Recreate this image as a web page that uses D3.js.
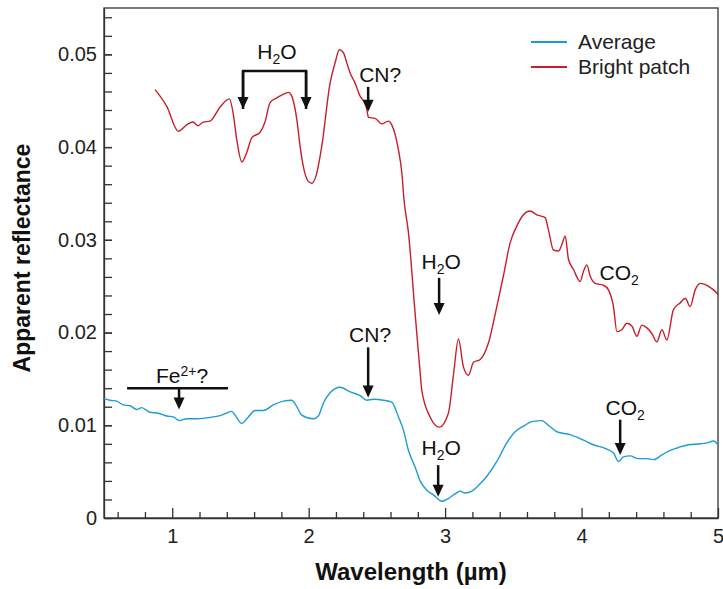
<!DOCTYPE html>
<html lang="en">
<head>
<meta charset="utf-8">
<title>Apparent reflectance</title>
<script src="https://cdn.jsdelivr.net/npm/d3@7"></script>
<style>
  body { margin: 0; background: #fff; font-family: "Liberation Sans", Arial, sans-serif; }
  .axis text { font-size: 20px; fill: #222; font-family: "Liberation Sans", Arial, sans-serif; }
  .axis path, .axis line { stroke: #333; stroke-width: 1.3; }
</style>
</head>
<body>
<script>
// wavelength (µm) and apparent reflectance
var avgWave = [0.5,0.544,0.593,0.641,0.691,0.74,0.776,0.837,0.898,0.96,1.008,1.052,1.106,1.18,1.253,1.301,1.363,1.436,1.46,1.51,1.558,1.607,1.668,1.741,1.815,1.876,1.913,1.949,2.034,2.071,2.108,2.157,2.23,2.304,2.377,2.426,2.474,2.548,2.609,2.658,2.694,2.731,2.78,2.817,2.866,2.914,2.976,3.024,3.073,3.11,3.147,3.196,3.244,3.306,3.379,3.452,3.513,3.574,3.636,3.709,3.757,3.819,3.916,4.014,4.087,4.173,4.234,4.271,4.307,4.356,4.417,4.479,4.527,4.589,4.65,4.71,4.784,4.87,4.919,4.967,5.0];
var avgRefl = [0.0129,0.0127,0.0126,0.0122,0.0121,0.0117,0.0119,0.0114,0.0113,0.0110,0.0109,0.0105,0.0107,0.0107,0.0108,0.0109,0.0111,0.0115,0.0111,0.0102,0.0109,0.0116,0.0116,0.0122,0.0126,0.0127,0.0120,0.0111,0.0107,0.0110,0.0124,0.0135,0.0141,0.0136,0.0132,0.0127,0.0128,0.0127,0.0125,0.0109,0.0095,0.0073,0.0055,0.0040,0.0030,0.0025,0.0018,0.0021,0.0026,0.0029,0.0027,0.0029,0.0035,0.0045,0.0061,0.0081,0.0093,0.0099,0.0104,0.0105,0.0100,0.0093,0.0090,0.0084,0.0079,0.0075,0.0070,0.0061,0.0066,0.0067,0.0064,0.0064,0.0063,0.0068,0.0073,0.0076,0.0079,0.0080,0.0081,0.0083,0.0079];

var brightWave = [0.874,0.96,1.045,1.106,1.152,1.189,1.226,1.277,1.35,1.419,1.446,1.473,1.51,1.546,1.583,1.644,1.68,1.717,1.766,1.803,1.851,1.876,1.913,1.937,1.961,1.998,2.023,2.054,2.096,2.157,2.194,2.225,2.254,2.279,2.304,2.34,2.377,2.401,2.426,2.438,2.487,2.536,2.584,2.609,2.658,2.683,2.699,2.731,2.78,2.817,2.829,2.89,2.958,3.024,3.061,3.098,3.134,3.171,3.208,3.257,3.318,3.379,3.427,3.477,3.526,3.574,3.623,3.672,3.733,3.757,3.794,3.831,3.856,3.88,3.904,3.941,3.99,4.014,4.039,4.063,4.1,4.161,4.197,4.234,4.259,4.295,4.332,4.369,4.405,4.442,4.479,4.515,4.552,4.589,4.625,4.674,4.723,4.76,4.796,4.833,4.87,4.919,4.967,5.0];
var brightRefl = [0.0462,0.0444,0.0417,0.0424,0.0427,0.0423,0.0427,0.0428,0.0443,0.0452,0.0437,0.0408,0.0384,0.0394,0.0410,0.0416,0.0427,0.0448,0.0453,0.0456,0.0459,0.0455,0.0430,0.0401,0.0379,0.0363,0.0361,0.0369,0.0401,0.0469,0.0491,0.0505,0.0502,0.0491,0.0480,0.0469,0.0455,0.0450,0.0441,0.0432,0.0431,0.0425,0.0428,0.0424,0.0397,0.0372,0.0343,0.0308,0.0221,0.0157,0.0138,0.0109,0.0098,0.0113,0.0154,0.0193,0.0163,0.0154,0.0168,0.0171,0.0189,0.0228,0.0261,0.0297,0.0315,0.0327,0.0331,0.0327,0.0324,0.0311,0.0289,0.0288,0.0295,0.0304,0.0279,0.0268,0.0255,0.0266,0.0273,0.0261,0.0253,0.0251,0.0246,0.0228,0.0201,0.0203,0.0210,0.0207,0.0196,0.0208,0.0205,0.0199,0.0190,0.0203,0.0192,0.0225,0.0232,0.0237,0.0228,0.0246,0.0253,0.0251,0.0246,0.0241];

var xTicks = [1, 2, 3, 4, 5];
var yTicks = [0, 0.01, 0.02, 0.03, 0.04, 0.05];
var yTickLabels = ["0", "0.01", "0.02", "0.03", "0.04", "0.05"];
var seriesNames = ["Average", "Bright patch"];
var seriesColors = ["#1b9bd7", "#c81e2a"];

// annotation labels: [text, subscript, rest, wavelength, reflectance]
var labels = [
  ["H", "2", "O", 1.768, 0.0503],
  ["CN?", "", "", 2.524, 0.0478],
  ["H", "2", "O", 2.971, 0.0276],
  ["CO", "2", "", 4.276, 0.0265],
  ["CN?", "", "", 2.45, 0.0198],
  ["H", "2", "O", 2.971, 0.0076],
  ["CO", "2", "", 4.32, 0.0119]
];
// arrows: wavelength, from reflectance, to reflectance
var arrows = [
  [1.519, 0.0482, 0.0441],
  [1.981, 0.0482, 0.0441],
  [2.436, 0.0465, 0.0438],
  [2.956, 0.0259, 0.0219],
  [2.436, 0.0184, 0.0130],
  [1.05, 0.0140, 0.0117],
  [2.949, 0.0057, 0.0023],
  [4.283, 0.0106, 0.0068]
];

var w = 723, h = 589;
var margin = {top: 8, right: 5, bottom: 71, left: 104};

var svg = d3.select("body").append("svg")
  .attr("width", w)
  .attr("height", h);

var x = d3.scaleLinear().domain([0.5, 5]).range([margin.left, w - margin.right]);
var y = d3.scaleLinear().domain([0, 0.055]).range([h - margin.bottom, margin.top]);

// frame
svg.append("rect")
  .attr("x", margin.left).attr("y", margin.top)
  .attr("width", w - margin.right - margin.left)
  .attr("height", h - margin.bottom - margin.top)
  .attr("fill", "none").attr("stroke", "#333").attr("stroke-width", 1.3);

// minor ticks
var xMinor = d3.range(0.6, 5, 0.2).filter(function(d) { return Math.abs(d - Math.round(d)) > 0.01; });
svg.append("g").attr("class", "axis")
  .attr("transform", "translate(0," + (h - margin.bottom) + ")")
  .call(d3.axisBottom(x).tickValues(xMinor).tickSize(-6).tickFormat(""))
  .select(".domain").remove();
var yMinor = d3.range(0.002, 0.055, 0.002);
svg.append("g").attr("class", "axis")
  .attr("transform", "translate(" + margin.left + ",0)")
  .call(d3.axisLeft(y).tickValues(yMinor).tickSize(-8).tickFormat(""))
  .select(".domain").remove();

// major axes
svg.append("g").attr("class", "axis")
  .attr("transform", "translate(0," + (h - margin.bottom) + ")")
  .call(d3.axisBottom(x).tickValues(xTicks).tickSizeInner(-10).tickSizeOuter(0).tickPadding(11).tickFormat(d3.format("d")));
svg.append("g").attr("class", "axis")
  .attr("transform", "translate(" + margin.left + ",0)")
  .call(d3.axisLeft(y).tickValues(yTicks).tickSizeInner(-8).tickSizeOuter(0).tickPadding(7)
    .tickFormat(function(d, i) { return yTickLabels[i]; }));

// lines
var line = d3.line()
  .x(function(d) { return x(d[0]); })
  .y(function(d) { return y(d[1]); })
  .curve(d3.curveMonotoneX);

svg.append("path")
  .datum(d3.zip(brightWave, brightRefl))
  .attr("fill", "none").attr("stroke", seriesColors[1]).attr("stroke-width", 1.4)
  .attr("d", line);
svg.append("path")
  .datum(d3.zip(avgWave, avgRefl))
  .attr("fill", "none").attr("stroke", seriesColors[0]).attr("stroke-width", 1.4)
  .attr("d", line);

// annotation text
labels.forEach(function(l) {
  var t = svg.append("text")
    .attr("x", x(l[3])).attr("y", y(l[4]))
    .attr("dy", "0.35em")
    .attr("text-anchor", "middle")
    .attr("font-size", 21).attr("fill", "#111");
  t.append("tspan").text(l[0]);
  if (l[1]) t.append("tspan").attr("font-size", 14).attr("dy", 5).text(l[1]);
  if (l[2]) t.append("tspan").attr("dy", -5).text(l[2]);
});

// Fe2+? label with superscript
var fe = svg.append("text")
  .attr("x", x(1.072)).attr("y", y(0.0154)).attr("dy", "0.35em")
  .attr("text-anchor", "middle").attr("font-size", 21).attr("fill", "#111");
fe.append("tspan").text("Fe");
fe.append("tspan").attr("font-size", 14).attr("dy", -7).text("2+");
fe.append("tspan").attr("dy", 7).text("?");

// bracket over H2O bands and bar over Fe2+
var ink = "#111";
svg.append("path")
  .attr("d", "M" + x(1.519) + "," + y(0.0441) + "V" + y(0.0482) + "H" + x(1.981) + "V" + y(0.0441))
  .attr("fill", "none").attr("stroke", ink).attr("stroke-width", 2.5);
svg.append("line")
  .attr("x1", x(0.669)).attr("x2", x(1.409))
  .attr("y1", y(0.0140)).attr("y2", y(0.0140))
  .attr("stroke", ink).attr("stroke-width", 2.5);

arrows.forEach(function(a) {
  var ax = x(a[0]), y0 = y(a[1]), y1 = y(a[2]);
  svg.append("line")
    .attr("x1", ax).attr("x2", ax).attr("y1", y0).attr("y2", y1 - 8)
    .attr("stroke", ink).attr("stroke-width", 2.5);
  svg.append("path")
    .attr("d", "M" + (ax - 5.5) + "," + (y1 - 12) + "L" + (ax + 5.5) + "," + (y1 - 12) + "L" + ax + "," + y1 + "Z")
    .attr("fill", ink);
});

// legend
var legend = svg.append("g").attr("transform", "translate(531,42)");
seriesNames.forEach(function(name, i) {
  legend.append("line")
    .attr("x1", 0).attr("x2", 36).attr("y1", i * 25).attr("y2", i * 25)
    .attr("stroke", seriesColors[i]).attr("stroke-width", 2);
  legend.append("text")
    .attr("x", 47).attr("y", i * 25).attr("dy", "0.35em")
    .attr("font-size", 21).attr("fill", "#222").text(name);
});

// axis titles
svg.append("text")
  .attr("x", (margin.left + w - margin.right) / 2).attr("y", 580)
  .attr("text-anchor", "middle").attr("font-weight", "bold").attr("font-size", 24)
  .attr("fill", "#111").text("Wavelength (µm)");
svg.append("text")
  .attr("transform", "translate(30,258) rotate(-90)")
  .attr("text-anchor", "middle").attr("font-weight", "bold").attr("font-size", 23)
  .attr("fill", "#111").text("Apparent reflectance");
</script>
</body>
</html>
